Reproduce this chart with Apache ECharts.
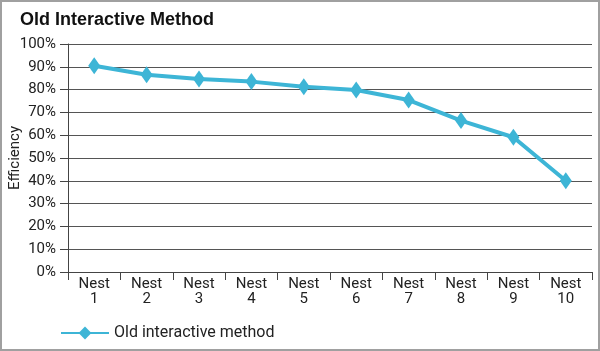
<!DOCTYPE html>
<html>
<head>
<meta charset="utf-8">
<script src="https://cdn.jsdelivr.net/npm/echarts@6/dist/echarts.min.js"></script>
<style>
    html, body { margin: 0; padding: 0; background: #fff; }
    #chart { width: 600px; height: 351px; box-sizing: border-box; border: 2px solid #a0a0a0; }
</style>
</head>
<body>
<div id="chart"></div>
<script>
var categorias = ['Nest\n1', 'Nest\n2', 'Nest\n3', 'Nest\n4', 'Nest\n5', 'Nest\n6', 'Nest\n7', 'Nest\n8', 'Nest\n9', 'Nest\n10'];
var eficiencia = [90.5, 86.5, 84.7, 83.5, 81.3, 79.8, 75.4, 66.4, 59.1, 40];
var nombreSerie = 'Old interactive method';
var titulo = 'Old Interactive Method';

var fuente = 'Roboto, "Liberation Sans", Arial, sans-serif';
var myChart = echarts.init(document.getElementById('chart'));
myChart.setOption({
    animation: false,
    textStyle: {fontFamily: fuente},
    title: {
        text: titulo,
        left: 13,
        top: 4,
        textStyle: {fontFamily: '"Liberation Sans", Arial, sans-serif', fontSize: 18, fontWeight: 'bold', color: '#111'}
    },
    legend: {
        data: [nombreSerie],
        left: 53,
        top: 318,
        itemWidth: 48,
        itemHeight: 16,
        itemGap: 10,
        textStyle: {fontFamily: fuente, fontSize: 16, color: '#222'}
    },
    grid: {
        left: 66,
        right: 6,
        top: 42,
        bottom: 77,
        outerBoundsMode: 'none',
        containLabel: false
    },
    xAxis: [{
            type: 'category',
            data: categorias,
            boundaryGap: true,
            axisLine: {show: true, lineStyle: {color: '#444', width: 1}},
            axisTick: {show: true, length: 8, alignWithLabel: false, lineStyle: {color: '#444'}},
            axisLabel: {fontFamily: fuente, fontSize: 15, color: '#222', lineHeight: 15, margin: 5, interval: 0}
        }],
    yAxis: [{
            type: 'value',
            name: 'Efficiency',
            nameLocation: 'middle',
            nameGap: 45,
            nameMoveOverlap: false,
            nameTextStyle: {fontFamily: fuente, fontSize: 15, color: '#222'},
            min: 0,
            max: 100,
            interval: 10,
            axisLine: {show: true, lineStyle: {color: '#444', width: 1}},
            axisTick: {show: true, length: 8, lineStyle: {color: '#444'}},
            axisLabel: {fontFamily: fuente, fontSize: 15, color: '#222', margin: 12, formatter: '{value}%'},
            splitLine: {show: true, lineStyle: {color: '#555', width: 1}}
        }],
    series: [{
            name: nombreSerie,
            type: 'line',
            data: eficiencia,
            symbol: 'diamond',
            symbolSize: [12, 17],
            itemStyle: {color: '#3db5d6'},
            lineStyle: {color: '#3db5d6', width: 4}
        }]
});
</script>
</body>
</html>
